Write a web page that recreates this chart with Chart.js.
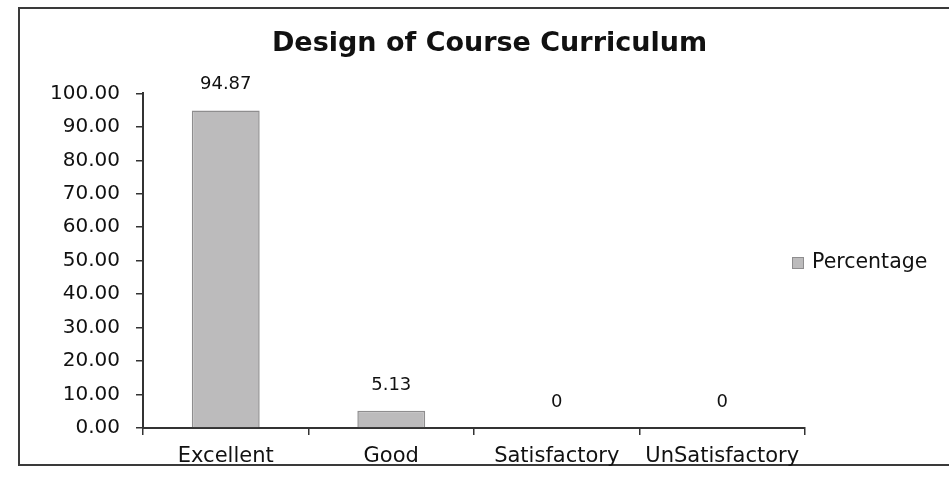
<!DOCTYPE html>
<html>
<head>
<meta charset="utf-8">
<script src="https://cdn.jsdelivr.net/npm/chart.js@4"></script>
<style>
html,body{margin:0;padding:0;background:#fff;overflow:hidden;}
#wrap{position:relative;width:949px;height:493px;}
</style>
</head>
<body>
<div id="wrap"><canvas id="c" width="949" height="493"></canvas></div>
<script>
const categories = ['Excellent', 'Good', 'Satisfactory', 'UnSatisfactory'];
const percentage = [94.87, 5.13, 0, 0];
const valueLabels = ['94.87', '5.13', '0', '0'];
const seriesName = 'Percentage';
const yTicks = [0, 10, 20, 30, 40, 50, 60, 70, 80, 90, 100];

const FONT = "'DejaVu Sans', sans-serif";
const TEXT = '#111111';
const BAR_FILL = '#bcbbbc';
const BAR_EDGE = '#8e8d8e';

const framePlugin = {
  id: 'frame',
  beforeDraw(chart) {
    const ctx = chart.ctx;
    ctx.save();
    ctx.fillStyle = '#fff';
    ctx.fillRect(0, 0, chart.width, chart.height);
    ctx.strokeStyle = '#3a3a3a';
    ctx.lineWidth = 2;
    ctx.strokeRect(19, 8, 960, 457);
    ctx.restore();
  }
};

const valueLabelPlugin = {
  id: 'valueLabels',
  afterDatasetsDraw(chart) {
    const ctx = chart.ctx;
    const meta = chart.getDatasetMeta(0);
    ctx.save();
    ctx.font = "18px " + FONT;
    ctx.fillStyle = TEXT;
    ctx.textAlign = 'center';
    ctx.textBaseline = 'middle';
    meta.data.forEach((bar, i) => {
      ctx.fillText(valueLabels[i], bar.x, bar.y - 26);
    });
    ctx.restore();
  }
};

const legendPlugin = {
  id: 'sideLegend',
  afterDraw(chart) {
    const ctx = chart.ctx;
    const ds = chart.data.datasets[0];
    const x = 792, y = 263;
    ctx.save();
    ctx.fillStyle = ds.backgroundColor;
    ctx.strokeStyle = ds.borderColor;
    ctx.lineWidth = 1;
    ctx.fillRect(x, y - 6, 12, 12);
    ctx.strokeRect(x + 0.5, y - 5.5, 11, 11);
    ctx.font = "20.5px " + FONT;
    ctx.fillStyle = TEXT;
    ctx.textAlign = 'left';
    ctx.textBaseline = 'middle';
    ctx.fillText(ds.label, x + 20, y);
    ctx.restore();
  }
};

new Chart(document.getElementById('c'), {
  type: 'bar',
  data: {
    labels: categories,
    datasets: [{
      label: seriesName,
      data: percentage,
      backgroundColor: BAR_FILL,
      borderColor: BAR_EDGE,
      borderWidth: 1.5,
      categoryPercentage: 1.0,
      barPercentage: 0.41
    }]
  },
  options: {
    responsive: false,
    animation: false,
    devicePixelRatio: 1,
    layout: { padding: { left: 30, right: 0, top: 8, bottom: 0 } },
    plugins: {
      legend: { display: false },
      tooltip: { enabled: false },
      title: {
        display: true,
        text: 'Design of Course Curriculum',
        color: TEXT,
        font: { family: FONT, size: 27, weight: 'bold' },
        padding: { top: 20, bottom: 33 }
      }
    },
    scales: {
      x: {
        grid: { display: true, drawOnChartArea: false, drawTicks: true, tickLength: 7, color: '#333', lineWidth: 1.5, offset: true },
        border: { display: true, color: '#333', width: 2 },
        ticks: { color: TEXT, font: { family: FONT, size: 21 }, padding: 9, maxRotation: 0, autoSkip: false },
        afterFit(scale) { scale.height = 65; }
      },
      y: {
        min: 0,
        max: 100,
        afterBuildTicks(scale) { scale.ticks = yTicks.map(v => ({ value: v })); },
        grid: { display: true, drawOnChartArea: false, drawTicks: true, tickLength: 7, color: '#333', lineWidth: 1.5 },
        border: { display: true, color: '#333', width: 2 },
        ticks: { color: TEXT, font: { family: FONT, size: 20 }, padding: 16, callback: v => Number(v).toFixed(2) },
        afterFit(scale) { scale.width = 113; }
      },
      legendSpace: {
        type: 'linear',
        position: 'right',
        display: true,
        grid: { display: false, drawTicks: false },
        border: { display: false },
        ticks: { display: false },
        afterFit(scale) { scale.width = 144; }
      }
    }
  },
  plugins: [framePlugin, valueLabelPlugin, legendPlugin]
});
</script>
</body>
</html>
